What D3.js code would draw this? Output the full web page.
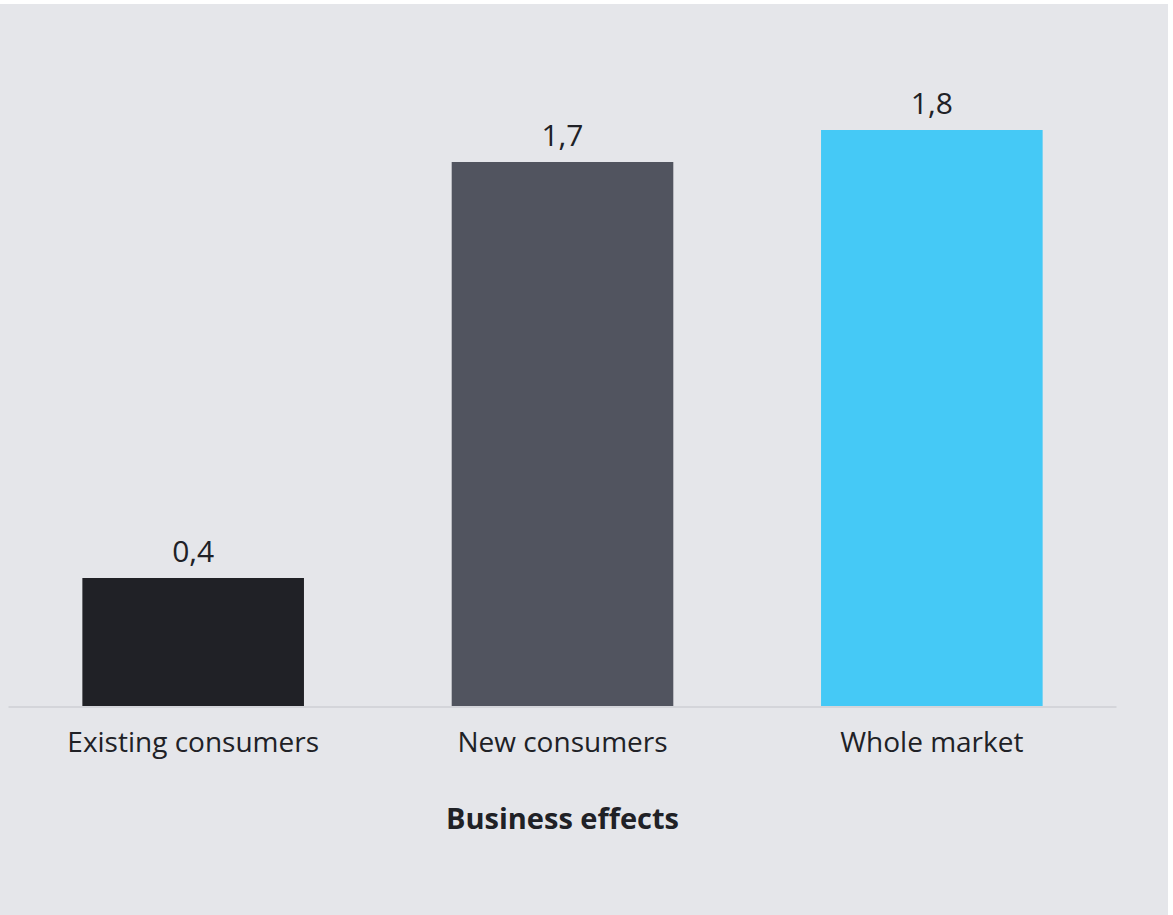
<!DOCTYPE html>
<html>
<head>
<meta charset="utf-8">
<script src="https://cdn.jsdelivr.net/npm/d3@7"></script>
<style>
  html, body { margin: 0; padding: 0; background: #ffffff; }
  svg { display: block; }
  text { font-family: "Open Sans", "Noto Sans", sans-serif; fill: #202126; }
</style>
</head>
<body>
<svg id="chart" width="1173" height="915"></svg>
<script>
// Business effects by consumer group
const categories = ["Existing consumers", "New consumers", "Whole market"];
const values = [0.4, 1.7, 1.8];
const barColors = ["#202126", "#51545f", "#45c9f6"];
const axisTitle = "Business effects";

const W = 1173, H = 915;
const svg = d3.select("#chart");

// panel background (thin white strip along top and right edge)
svg.append("rect").attr("x", 0).attr("y", 4).attr("width", W - 5).attr("height", H - 4)
  .attr("fill", "#e5e6ea");

const x = d3.scaleBand().domain(categories).range([8.5, 1116.5])
  .paddingInner(0.4).paddingOuter(0.2);
const y = d3.scaleLinear().domain([0, 2]).range([706, 66]);

const fmt = v => d3.format(".1f")(v).replace(".", ",");

// bars
svg.append("g").selectAll("rect").data(categories).join("rect")
  .attr("x", d => x(d))
  .attr("y", (d, i) => y(values[i]))
  .attr("width", x.bandwidth())
  .attr("height", (d, i) => y(0) - y(values[i]))
  .attr("fill", (d, i) => barColors[i]);

// baseline
svg.append("line").attr("x1", 8.5).attr("x2", 1116.5)
  .attr("y1", y(0) + 1).attr("y2", y(0) + 1)
  .attr("stroke", "#d4d5da").attr("stroke-width", 2);

// value labels
svg.append("g").selectAll("text").data(categories).join("text")
  .attr("x", d => x(d) + x.bandwidth() / 2)
  .attr("y", (d, i) => y(values[i]) - 16)
  .attr("text-anchor", "middle")
  .attr("font-size", 30)
  .text((d, i) => fmt(values[i]));

// category axis
const xAxis = svg.append("g").attr("transform", `translate(0,${y(0)})`)
  .call(d3.axisBottom(x).tickSize(0).tickPadding(0));
xAxis.select(".domain").remove();
xAxis.selectAll("text")
  .attr("dy", null).attr("y", 46)
  .attr("font-size", 28)
  .style("font-family", '"Open Sans", "Noto Sans", sans-serif')
  .attr("fill", "#202126");

// axis title
svg.append("text").attr("x", (8.5 + 1116.5) / 2).attr("y", 829)
  .attr("text-anchor", "middle").attr("font-size", 29).attr("font-weight", "bold")
  .text(axisTitle);
</script>
</body>
</html>
